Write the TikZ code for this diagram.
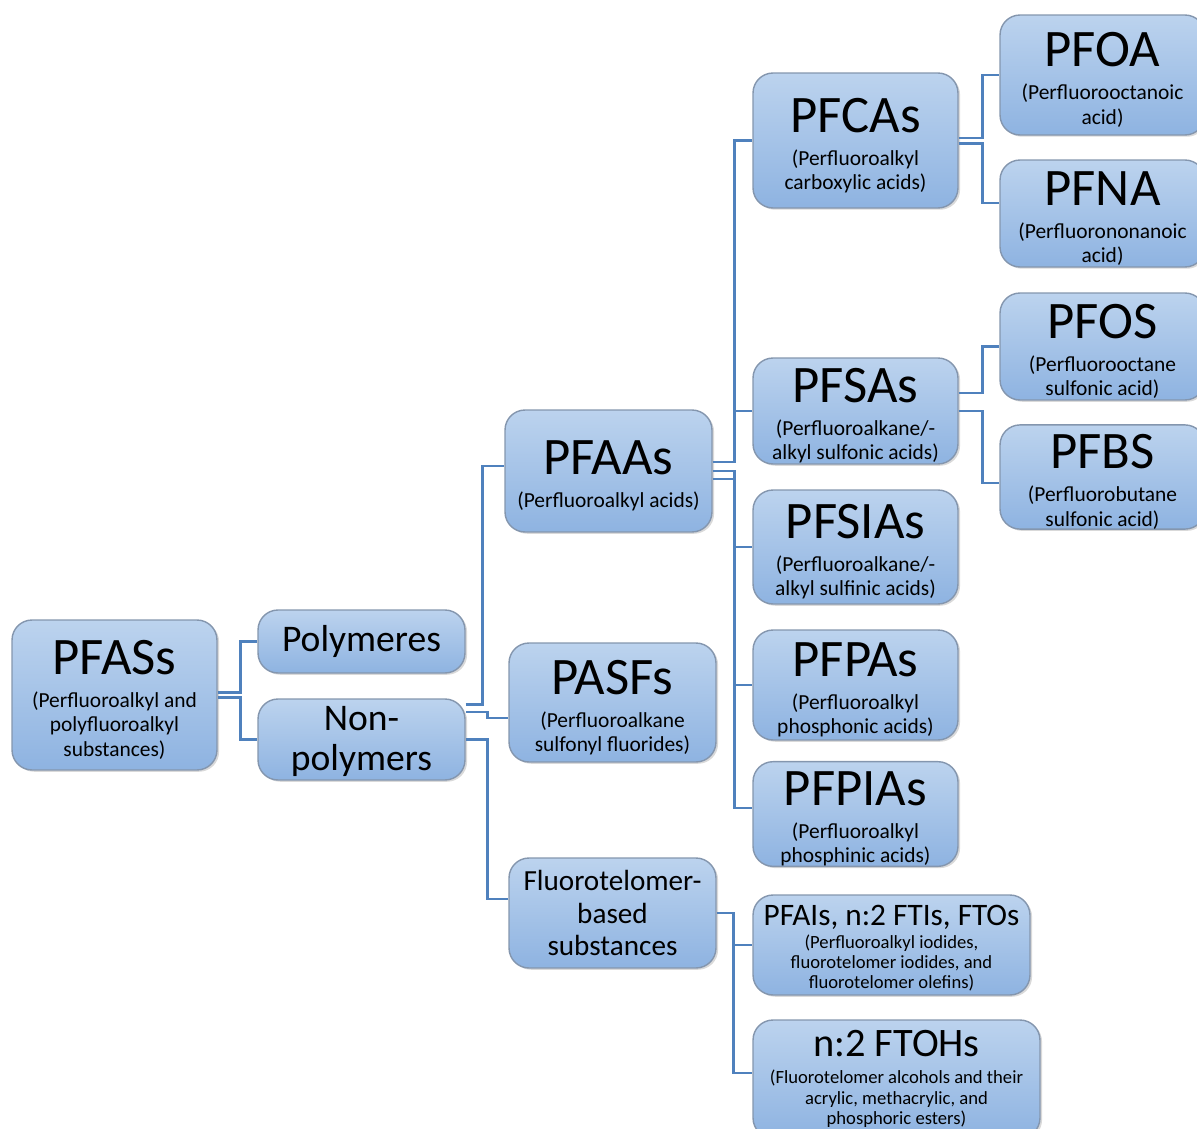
\documentclass[tikz,border=0pt]{standalone}
\usepackage{fontspec}
\setmainfont{Carlito}
\usetikzlibrary{shadows}
\definecolor{boxtop}{HTML}{BCD3EE}
\definecolor{boxbot}{HTML}{8EB3E1}
\definecolor{boxline}{HTML}{8496AE}
\definecolor{connblue}{HTML}{4F81BD}
\newcommand\titlef{\fontsize{30}{32}\selectfont}
\newcommand\subf{\fontsize{12.2}{13.8}\selectfont}
\newcommand\midf{\fontsize{21.4}{22.5}\selectfont}
\newcommand\ftf{\fontsize{16.6}{18.7}\selectfont}
\newcommand\tinyf{\fontsize{10.6}{11.6}\selectfont}
\newcommand\ttl[1]{{\titlef\rule{0pt}{25pt}#1}}

\begin{document}
\begin{tikzpicture}[
		x=0.02cm, y=-0.02cm,
		pbox/.style={draw=boxline, line width=0.8pt, rounded corners=0.4cm,
			top color=boxtop, bottom color=boxbot, align=center, inner sep=0pt,
			font=\subf, drop shadow={opacity=0.3, shadow xshift=1.2pt, shadow yshift=-1pt}},
		conn/.style={line width=1.4pt, draw=connblue}
	]
	\useasboundingbox (0,0) rectangle (1197,1129);
	\clip (0,0) rectangle (1197,1129);

	% first levels
	\node[pbox, minimum width=4.1cm, minimum height=3cm] (pfass) at (114.5,695)
		{\ttl{PFASs}\\[5pt](Perfluoroalkyl and\\polyfluoroalkyl\\substances)};
	\node[pbox, font=\midf, minimum width=4.14cm, minimum height=1.26cm] (poly) at (361.5,641.5) {Polymeres};
	\node[pbox, font=\midf, minimum width=4.14cm, minimum height=1.62cm] (nonpoly) at (361.5,739.5) {\rule{0pt}{16pt}Non-\\polymers};
	\node[pbox, minimum width=4.14cm, minimum height=2.44cm] (pfaas) at (608.5,471)
		{\ttl{PFAAs}\\[5pt](Perfluoroalkyl acids)};
	\node[pbox, minimum width=4.14cm, minimum height=2.38cm] (pasfs) at (612.5,702.5)
		{\ttl{PASFs}\\[5pt](Perfluoroalkane\\sulfonyl fluorides)};
	\node[pbox, font=\ftf, minimum width=4.14cm, minimum height=2.2cm] (ftbased) at (612.5,913)
		{Fluorotelomer-\\based\\substances};

	% acids
	\node[pbox, minimum width=4.1cm, minimum height=2.7cm] (pfcas) at (855.5,140.5)
		{\ttl{PFCAs}\\[5pt](Perfluoroalkyl\\carboxylic acids)};
	\node[pbox, minimum width=4.1cm, minimum height=2.12cm] (pfsas) at (855.5,411)
		{\ttl{PFSAs}\\[5pt](Perfluoroalkane/-\\alkyl sulfonic acids)};
	\node[pbox, minimum width=4.1cm, minimum height=2.28cm] (pfsias) at (855.5,547)
		{\ttl{PFSIAs}\\[5pt](Perfluoroalkane/-\\alkyl sulfinic acids)};
	\node[pbox, minimum width=4.1cm, minimum height=2.2cm] (pfpas) at (855.5,685)
		{\ttl{PFPAs}\\[5pt](Perfluoroalkyl\\phosphonic acids)};
	\node[pbox, minimum width=4.1cm, minimum height=2.04cm] (pfpias) at (855.5,814)
		{\ttl{PFPIAs}\\[5pt](Perfluoroalkyl\\phosphinic acids)};

	% fluorotelomers
	\node[pbox, font=\tinyf, minimum width=5.54cm, minimum height=2cm] (pfais) at (891.5,945)
		{{\fontsize{17.8}{19}\selectfont\rule{0pt}{15pt}PFAIs, n:2 FTIs, FTOs}\\[1.5pt](Perfluoroalkyl iodides,\\fluorotelomer iodides, and\\fluorotelomer olefins)};
	\node[pbox, font=\tinyf, minimum width=5.74cm, minimum height=2.36cm] (ftohs) at (896.5,1079)
		{{\fontsize{23}{25}\selectfont n:2 FTOHs}\\[4pt](Fluorotelomer alcohols and their\\acrylic, methacrylic, and\\phosphoric esters)};

	% single compounds
	\node[pbox, minimum width=4.1cm, minimum height=2.4cm] (pfoa) at (1102.5,75)
		{\ttl{PFOA}\\[5pt](Perfluorooctanoic\\acid)};
	\node[pbox, minimum width=4.1cm, minimum height=2.14cm] (pfna) at (1102.5,213.5)
		{\ttl{PFNA}\\[5pt](Perfluorononanoic\\acid)};
	\node[pbox, minimum width=4.1cm, minimum height=2.14cm] (pfos) at (1102.5,346.5)
		{\ttl{PFOS}\\[5pt](Perfluorooctane\\sulfonic acid)};
	\node[pbox, minimum width=4.1cm, minimum height=2.08cm] (pfbs) at (1102.5,477)
		{\ttl{PFBS}\\[5pt](Perfluorobutane\\sulfonic acid)};

	% connectors
	\draw[conn] ([yshift=1.3pt]pfass.east) -- ++(23,0) |- (poly.west);
	\draw[conn] ([yshift=-1.3pt]pfass.east) -- ++(23,0) |- (nonpoly.west);

	\draw[conn] ([yshift=20pt]nonpoly.east) -- ++(17,0) |- ([yshift=2.8pt]pfaas.west);
	\draw[conn] ([yshift=15.6pt]nonpoly.east) -- ++(22,0) |- ([yshift=-8.8pt]pasfs.west);
	\draw[conn] (nonpoly.east) -- ++(22,0) |- ([yshift=7.9pt]ftbased.west);

	\draw[conn] ([yshift=5pt]pfaas.east) -- ++(22,0) |- (pfcas.west);
	\draw[conn] ([yshift=5pt]pfaas.east) -- ++(22,0) |- (pfsas.west);
	\draw[conn] (pfaas.east) -- ++(22,0) |- (pfsias.west);
	\draw[conn] ([yshift=-4.5pt]pfaas.east) -- ++(22,0) |- (pfpas.west);
	\draw[conn] ([yshift=-4.5pt]pfaas.east) -- ++(22,0) |- ([yshift=3.4pt]pfpias.west);

	\draw[conn] ([yshift=1.3pt]pfcas.east) -- ++(24,0) |- (pfoa.west);
	\draw[conn] ([yshift=-1.6pt]pfcas.east) -- ++(24,0) |- ([yshift=6pt]pfna.west);
	\draw[conn] ([yshift=10.2pt]pfsas.east) -- ++(24,0) |- (pfos.west);
	\draw[conn] (pfsas.east) -- ++(24,0) |- ([yshift=-3.4pt]pfbs.west);

	\draw[conn] (ftbased.east) -- ++(17,0) |- (pfais.west);
	\draw[conn] (ftbased.east) -- ++(17,0) |- ([yshift=3.4pt]ftohs.west);
\end{tikzpicture}
\end{document}
